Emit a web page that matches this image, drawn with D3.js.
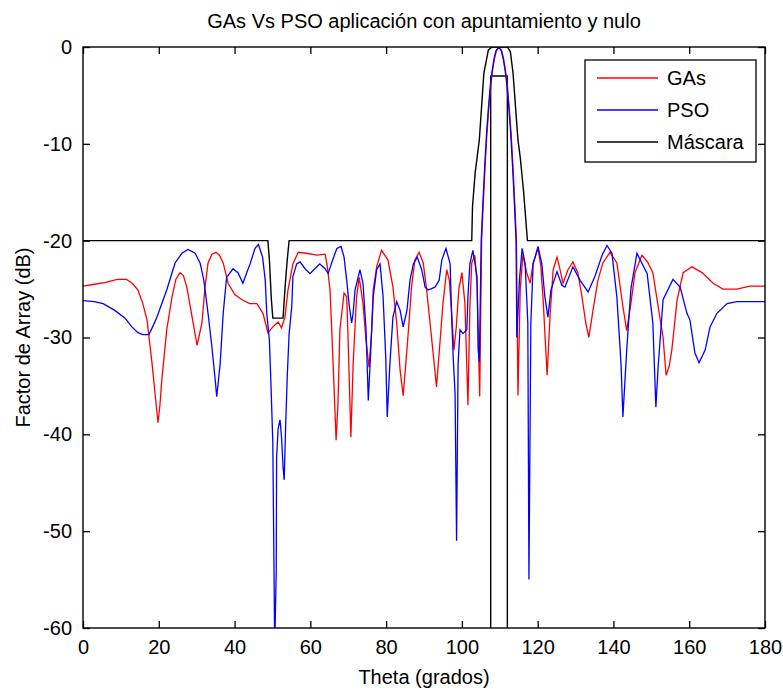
<!DOCTYPE html>
<html>
<head>
<meta charset="utf-8">
<script src="https://cdn.jsdelivr.net/npm/d3@7"></script>
<style>
  body { margin: 0; background: #fff; }
  svg text { font-family: "Liberation Sans", Arial, sans-serif; fill: #000; }
</style>
</head>
<body>
<svg id="chart"></svg>
<script>
// valores (theta en grados, factor de array en dB)
var xTicks = [0, 20, 40, 60, 80, 100, 120, 140, 160, 180];
var yTicks = [0, -10, -20, -30, -40, -50, -60];
var seriesNames = ["GAs", "PSO", "Máscara"];

var gaData = [
  [0,-24.7],[3,-24.5],[6,-24.3],[9,-24.0],[11.5,-24.0],[13,-24.4],[14.5,-25.1],[15.8,-26.5],
  [16.9,-28.2],[18.2,-32.6],[19.2,-36.5],[19.8,-38.8],[20.3,-37],[20.8,-34.4],[22.1,-29.2],
  [23.5,-25.8],[24.5,-24],[25.6,-23.3],[26.5,-23.6],[27.4,-24.8],[28.8,-27.9],[30.1,-30.8],
  [31.4,-28.5],[32.2,-24.8],[33,-22.3],[34,-21.4],[35.1,-21.2],[36,-21.5],[37,-22.3],[38.3,-24.4],
  [40.1,-25.6],[42,-26.1],[44,-26.5],[45.9,-26.5],[47.5,-27.5],[48.8,-29.5],[50.1,-28.9],
  [51.5,-28.4],[52.4,-29.0],[53.3,-27.9],[54.1,-25.1],[55.4,-22.4],[56.8,-21.2],[59,-21.3],
  [61.7,-21.5],[63.9,-21.4],[64.5,-22.7],[65.2,-25.1],[65.9,-31.6],[66.8,-40.6],[67.3,-36.8],
  [67.8,-29.2],[68.9,-25.4],[69.6,-25.8],[70,-30.6],[70.7,-40.3],[71.3,-32.7],[72.2,-25.8],
  [72.9,-23.8],[73.9,-26.5],[74.7,-30.3],[75.5,-33.1],[76.2,-29.2],[76.6,-25.1],[77.5,-22.7],
  [78.8,-21.0],[80.5,-22.0],[81.8,-24.8],[82.8,-28.5],[83.7,-33.4],[84.5,-36.0],[85.2,-32.7],
  [85.9,-29.2],[86.7,-24.8],[87.6,-22.0],[88.7,-21.2],[89.8,-22.3],[90.7,-25.1],[91.6,-28.5],
  [92.4,-31.6],[93.3,-35.1],[94.2,-30.6],[95,-26.5],[96,-23.0],[96.7,-24.1],[97.3,-27.5],
  [97.9,-31.3],[98.5,-29],[99.2,-25],[100,-23.3],[100.8,-26.5],[101.6,-37],[102.1,-27],
  [102.6,-22.3],[103.4,-21.5],[104,-24.5],[104.7,-36.1],
  [105.2,-20],[105.6,-16.5],[106.1,-12.5],[106.6,-9],[107.1,-6.3],[107.6,-4],[108.1,-2.4],
  [108.6,-1.2],[109.1,-0.4],[109.8,0],[110.5,-0.4],[111,-1.2],[111.5,-2.4],[112,-4],
  [112.5,-6.3],[113,-9],[113.5,-12.5],[114,-16.5],[114.4,-20],
  [114.8,-36],[115.4,-25],[116.1,-21.5],[117.1,-23.3],[118,-24.4],[118.8,-22.3],[120.1,-20.8],
  [120.8,-22.5],[121.4,-25.8],[122.5,-33.9],[123.3,-27.5],[124.1,-23.0],[125.1,-21.7],
  [125.9,-23.0],[126.7,-24.4],[128,-23.0],[129.3,-22.2],[130.6,-23.3],[131.7,-25.8],
  [132.7,-28.5],[133.5,-30.0],[134.6,-27.2],[135.9,-24.1],[137.2,-22.3],[139.1,-21.2],
  [140.9,-22.3],[142.5,-26.8],[143.5,-29.3],[144.6,-26.5],[145.7,-23.3],[147.5,-21.5],
  [149,-22.2],[150.4,-23.3],[151.8,-26.8],[153.1,-30],[153.9,-33.9],[154.7,-33],[155.4,-31.3],
  [156.8,-26.1],[158.4,-23.3],[160.7,-22.7],[163.4,-23.3],[166.3,-24.4],[168.9,-25.0],
  [172.6,-25.0],[176,-24.7],[180,-24.7]
];

var psoData = [
  [0,-26.2],[3,-26.3],[5.3,-26.5],[8.4,-27.2],[11.1,-28.0],[12.9,-28.9],[14.5,-29.5],[15.8,-29.7],
  [17.4,-29.7],[18.5,-28.8],[19.5,-27.9],[22.1,-25.1],[24.3,-22.3],[26.1,-21.3],[27.7,-20.9],
  [29.6,-21.3],[30.9,-22.3],[31.9,-24.1],[33,-27.5],[34,-30.9],[34.8,-34],[35.3,-36.1],
  [36.2,-32.7],[37,-27.5],[37.9,-23.8],[39.6,-22.9],[40.9,-23.3],[42.2,-24.4],[43.5,-23.0],
  [44.1,-22.4],[45.4,-20.8],[46.3,-20.4],[47.4,-21.7],[48.1,-24.1],[48.5,-27.5],[49.2,-30.3],
  [49.6,-34.7],[50.1,-40.9],[50.6,-62],[51,-54],[51.1,-42.4],[51.5,-39.4],[52,-38.5],
  [52.4,-40.3],[52.8,-43.4],[53.1,-44.7],[53.5,-38.9],[53.9,-34.1],[54.4,-29.6],[55.1,-26.8],
  [55.4,-23.7],[56.4,-22.4],[57.3,-22.2],[58.6,-22.9],[59.9,-23.4],[61.2,-22.9],[62.5,-22.4],
  [63.9,-22.9],[64.7,-23.4],[65.7,-22.2],[67,-20.8],[68.1,-20.6],[68.9,-21.7],[69.6,-24.1],
  [70.3,-26.8],[70.9,-28.5],[71.3,-27.5],[71.8,-25.1],[73.1,-23.0],[73.9,-24.4],[74.7,-29.2],
  [75.3,-36.5],[76,-30.9],[76.6,-25.8],[77.5,-23.0],[78.4,-22.4],[79.2,-25.8],[79.9,-32.0],
  [80.3,-38.2],[81,-32.7],[81.8,-27.9],[82.8,-26.3],[83.7,-27.2],[84.5,-28.9],[85.5,-27.2],
  [86.3,-24.1],[87.2,-22.4],[88.2,-21.7],[89.4,-23.0],[90.3,-24.8],[91.1,-25.1],[92.9,-24.8],
  [94,-24.1],[94.7,-22.0],[95.8,-20.8],[96.9,-22.4],[97.3,-27.9],[97.7,-32],[98.2,-35.8],
  [98.6,-51],[99,-32.7],[99.5,-29.2],[100.3,-29.6],[101.3,-29.2],[101.6,-25.8],[102.1,-22.4],
  [102.9,-21.0],[104,-23.7],[104.3,-31.3],[104.6,-32.5],
  [105.1,-20],[105.5,-16.5],[106,-12.5],[106.5,-9],[107,-6.3],[107.5,-4],[108,-2.4],
  [108.5,-1.2],[109,-0.4],[109.7,0],[110.4,-0.4],[110.9,-1.2],[111.4,-2.4],[111.9,-4],
  [112.4,-6.3],[112.9,-9],[113.4,-12.5],[113.9,-16.5],[114.3,-20],
  [114.5,-30],[115.2,-24],[115.9,-20.8],[116.7,-22.4],[117.4,-28.5],[117.7,-55],[118.2,-28.5],
  [118.8,-22.4],[120.1,-20.6],[121.1,-22.4],[121.9,-25.8],[122.7,-27.9],[123.5,-25.1],
  [125.1,-23.2],[126.4,-24.6],[127.2,-24.8],[129.3,-22.7],[131.2,-24.1],[133.3,-25.3],
  [135.1,-23.7],[137,-21.5],[138.3,-20.5],[139.6,-21.3],[140.9,-25.8],[142,-32.7],[142.5,-38.2],
  [143.5,-31.3],[144.6,-25],[146.2,-21.3],[148.9,-23.4],[150.4,-28.5],[151.2,-37.2],
  [151.8,-33],[153.1,-26.1],[155.7,-24.0],[157.6,-24.8],[159.4,-27.5],[160.2,-28.2],
  [161.5,-31.6],[162.6,-32.6],[164.2,-31.3],[165.5,-28.9],[167.3,-27.5],[170,-26.5],
  [172.6,-26.3],[180,-26.3]
];

// mascara superior (lobulos laterales + haz principal)
var maskUpper = [
  [0,-20],[48.8,-20],[49.2,-22],[49.7,-26],[50.1,-28],[52.8,-28],[53.3,-25],[53.9,-22],
  [54.4,-20],[102.6,-20],[102.8,-16.5],[103.5,-13],[104.6,-9.6],[105.8,-2.7],[107,-0.3],
  [108,0],[112,0],[112.8,-0.5],[113.5,-2.7],[114.8,-9.6],[115.4,-11.4],[116.3,-15],
  [117.3,-20],[180,-20]
];
// mascara inferior del haz principal
var maskLower = [[107.6,-60],[107.6,-3],[112,-3],[112,-60]];

var width = 783,
    height = 690,
    margin = {top: 47, right: 18, bottom: 62, left: 83};

var svg = d3.select("#chart")
    .attr("width", width)
    .attr("height", height);

var x = d3.scaleLinear().domain([0, 180]).range([margin.left, width - margin.right]);
var y = d3.scaleLinear().domain([-60, 0]).range([height - margin.bottom, margin.top]);

svg.append("defs").append("clipPath")
    .attr("id", "plotclip")
  .append("rect")
    .attr("x", x(0))
    .attr("y", y(0))
    .attr("width", x(180) - x(0))
    .attr("height", y(-60) - y(0));

var line = d3.line()
    .x(function(d) { return x(d[0]); })
    .y(function(d) { return y(d[1]); });

var g = svg.append("g").attr("clip-path", "url(#plotclip)");

g.append("path").datum(maskUpper)
    .attr("d", line).attr("fill", "none").attr("stroke", "#000").attr("stroke-width", 1.4);
g.append("path").datum(maskLower)
    .attr("d", line).attr("fill", "none").attr("stroke", "#000").attr("stroke-width", 1.4);
g.append("path").datum(gaData)
    .attr("d", line).attr("fill", "none").attr("stroke", "#ff0000").attr("stroke-width", 1.3);
g.append("path").datum(psoData)
    .attr("d", line).attr("fill", "none").attr("stroke", "#0000ff").attr("stroke-width", 1.3);

// ejes con marcas hacia dentro en los cuatro lados
var tick = 7;
var plain = function(d) { return String(d); };
svg.append("g")
    .attr("transform", "translate(0," + y(-60) + ")")
    .call(d3.axisBottom(x).tickValues(xTicks).tickSize(-tick).tickPadding(12).tickFormat(plain))
    .call(function(a) { a.select(".domain").remove(); });
svg.append("g")
    .attr("transform", "translate(0," + y(0) + ")")
    .call(d3.axisTop(x).tickValues(xTicks).tickSize(-tick).tickFormat(""))
    .call(function(a) { a.select(".domain").remove(); });
svg.append("g")
    .attr("transform", "translate(" + x(0) + ",0)")
    .call(d3.axisLeft(y).tickValues(yTicks).tickSize(-tick).tickPadding(11).tickFormat(plain))
    .call(function(a) { a.select(".domain").remove(); });
svg.append("g")
    .attr("transform", "translate(" + x(180) + ",0)")
    .call(d3.axisRight(y).tickValues(yTicks).tickSize(-tick).tickFormat(""))
    .call(function(a) { a.select(".domain").remove(); });

svg.selectAll(".tick line").attr("stroke", "#000").attr("stroke-width", 1.3);
svg.selectAll(".tick text").style("font-size", "20px");

svg.append("rect")
    .attr("x", x(0)).attr("y", y(0))
    .attr("width", x(180) - x(0)).attr("height", y(-60) - y(0))
    .attr("fill", "none").attr("stroke", "#000").attr("stroke-width", 1.4);

// textos
svg.append("text")
    .attr("x", x(90)).attr("y", 28)
    .attr("text-anchor", "middle").style("font-size", "20px")
    .text("GAs Vs PSO aplicación con apuntamiento y nulo");
svg.append("text")
    .attr("x", x(90)).attr("y", 684)
    .attr("text-anchor", "middle").style("font-size", "20px")
    .text("Theta (grados)");
svg.append("text")
    .attr("transform", "translate(30," + y(-30) + ") rotate(-90)")
    .attr("text-anchor", "middle").style("font-size", "20px")
    .text("Factor de Array (dB)");

// leyenda
var colors = ["#ff0000", "#0000ff", "#000"];
var legend = svg.append("g").attr("transform", "translate(585,60)");
legend.append("rect")
    .attr("width", 171).attr("height", 102)
    .attr("fill", "#fff").attr("stroke", "#000").attr("stroke-width", 1.3);
var item = legend.selectAll(".item")
    .data(seriesNames)
  .enter().append("g")
    .attr("transform", function(d, i) { return "translate(0," + (18 + i * 32) + ")"; });
item.append("line")
    .attr("x1", 12).attr("x2", 73)
    .attr("stroke", function(d, i) { return colors[i]; })
    .attr("stroke-width", 1.3);
item.append("text")
    .attr("x", 82).attr("y", 7)
    .style("font-size", "20px")
    .text(function(d) { return d; });
</script>
</body>
</html>
